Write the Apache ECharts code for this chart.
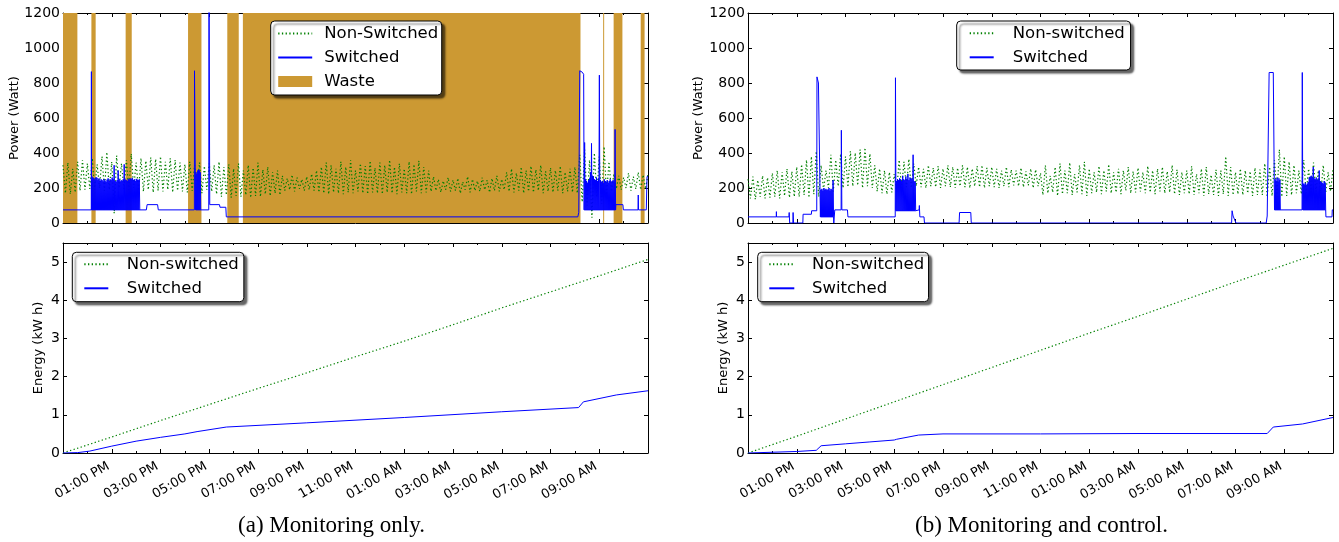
<!DOCTYPE html>
<html><head><meta charset="utf-8">
<script src="https://cdn.jsdelivr.net/npm/echarts@6/dist/echarts.min.js"></script>
<style>html,body{margin:0;padding:0;background:#fff}#c{width:1339px;height:542px}</style>
</head><body><div id="c"></div>
<script>
// ---------- tick labels (x axis runs 0..24 h starting 11:00 AM) ----------
const timeLabels = ['01:00 PM','03:00 PM','05:00 PM','07:00 PM','09:00 PM','11:00 PM','01:00 AM','03:00 AM','05:00 AM','07:00 AM','09:00 AM'];
const sampleStepH = 0.1;

// ---------- (a) Monitoring only : power ----------
const leftNonSwitched = [
330,170,345,165,310,175,350,185,360,190,
340,195,370,190,335,200,380,185,405,190,
350,55,385,200,340,195,360,190,395,200,
345,185,370,180,355,190,375,175,365,185,
380,180,350,190,370,175,360,185,345,180,
335,175,350,185,330,180,345,170,325,190,
340,180,330,165,350,150,320,160,335,145,
310,155,340,150,300,160,330,145,315,155,
345,150,305,165,320,155,290,170,300,160,
270,185,255,190,275,180,260,195,250,185,
265,190,280,185,300,175,320,170,345,165,
330,175,310,170,350,165,320,175,360,170,
300,180,340,170,325,165,355,175,315,170,
345,165,330,175,360,170,320,165,340,175,
310,170,350,165,335,180,355,170,320,175,
300,180,265,185,250,175,240,190,260,180,
245,185,255,170,235,190,265,175,250,185,
240,180,260,190,245,175,255,185,270,180,
250,190,290,180,310,175,285,185,320,170,
300,180,325,175,305,185,330,170,295,180,
315,175,300,185,325,170,290,180,310,175,
320,170,390,120,420,100,360,30,400,150,
380,110,436,160,350,180,280,195,270,190,
260,200,285,185,265,195,290,190,275,195,
280];
const leftSwitched = [
[0,75],[1.16,75],[1.165,865],[1.17,75],[3.42,75],[3.45,105],[3.88,105],[3.91,75],
[5.39,75],[5.395,870],[5.43,860],[5.44,75],[5.98,75],[5.99,1400],[6.01,1400],[6.02,105],
[6.42,105],[6.44,90],[6.68,90],[6.7,35],[21.12,35],[21.16,60],[21.2,870],[21.3,862],
[21.36,850],[21.38,75],[22.67,75],[22.68,105],[22.97,105],[22.99,75],[23.59,75],[23.6,160],
[23.61,75],[23.93,75],[23.96,265],[24,265]];
const leftBurstSpans = [[1.17,3.15,75],[5.44,5.65,75],[21.38,22.67,75]];
const leftBurstTops1 = [265,260,255,250,262,258,245,255,240,250,245,238,252,242,235,248,255,240,
  250,245,260,250,330,240,235,245,300,250,238,245,240,250,335,250,245,240,252,248,
  255,250,258,245,250,240,252,248,245,250];
const leftBurstTops2 = [290,280,300,305,300,290];
const leftBurstTops3 = [460,250,240,230,245,255,290,455,270,265,250,245,260,240,255,845,
  245,235,240,230,250,240,235,245,230,240,250,235,240,245,238,535];
const leftWaste = [[0,0.59],[1.165,1.34],[2.57,2.82],[5.13,5.68],[6.74,7.21],[7.38,21.23],[22.16,22.2],[22.59,22.95],[23.7,23.86]];

// ---------- (b) Monitoring and control : power ----------
const rightNonSwitched = [
250,140,265,135,245,150,270,140,260,145,
285,150,300,140,290,155,310,145,295,150,
320,150,335,160,360,145,380,165,410,150,
330,190,300,200,390,180,360,210,395,200,
380,205,410,210,400,215,420,200,430,210,
395,200,330,180,310,170,300,165,290,175,
280,180,360,200,350,205,365,200,340,210,
320,205,310,200,330,210,315,205,325,200,
310,210,330,205,320,200,315,210,330,205,
320,200,310,210,325,205,330,200,315,210,
320,205,310,200,300,210,320,205,305,215,
300,210,315,205,295,215,310,200,305,210,
285,160,330,170,270,175,320,155,340,165,
300,170,345,160,280,175,330,165,350,155,
310,170,290,175,325,165,300,180,335,170,
290,175,310,165,300,185,320,170,295,175,
315,180,290,170,325,175,300,165,310,180,
320,170,295,175,330,165,305,160,290,170,
300,165,325,160,280,170,310,155,320,165,
275,160,305,155,300,165,380,155,320,160,
290,165,310,160,300,170,295,155,315,160,
305,160,340,150,320,155,360,150,420,150,
380,155,350,160,330,170,300,165,360,170,
310,175,345,180,300,170,330,175,290,180,
310];
const rightSwitched = [
[0,35],[1.16,35],[1.165,65],[1.17,35],[1.68,35],[1.69,60],[1.71,0],[1.84,0],[1.85,60],[1.87,0],
[2.25,0],[2.26,50],[2.6,50],[2.61,70],[2.82,70],[2.83,835],[2.88,830],[2.89,800],[2.96,800],[2.97,35],
[3.51,35],[3.52,0],[3.55,0],[3.56,75],[3.82,75],[3.83,530],[3.85,75],[4.08,75],[4.1,35],[6.04,35],
[6.05,830],[6.07,70],[6.88,70],[6.89,75],[7.02,75],[7.03,100],[7.05,35],[7.22,35],[7.24,0],[8.66,0],
[8.68,60],[9.14,60],[9.16,0],[19.84,0],[19.86,70],[19.9,40],[20.02,0],[21.26,0],[21.3,40],[21.38,860],
[21.55,860],[21.6,75],[22.73,75],[22.74,860],[22.76,75],[23.7,75],[23.71,35],[23.96,35],[23.97,75],[24,75]];
const rightBurstSpans = [[2.97,3.51,35],[6.07,6.88,70],[21.61,21.84,75],[22.76,23.7,75]];
const rightBurstTops1 = [190,195,185,200,190,195,188,192,200,185,195,190,245];
const rightBurstTops2 = [240,250,245,255,250,240,270,250,245,265,250,280,245,260,255,250,390,240,235];
const rightBurstTops3 = [250,240,260,235,255,245];
const rightBurstTops4 = [225,220,230,215,225,235,260,265,270,260,320,255,250,260,245,255,300,240,235,230,225,240,230];

// ---------- energy (kW h) ----------
const leftEnergyNonSwitched = [[0,0],[2,0.42],[4,0.85],[6,1.27],[8,1.69],[10,2.1],[12,2.52],[14,2.93],[16,3.36],[18,3.8],[20,4.22],[22,4.64],[24,5.07]];
const leftEnergySwitched = [[0,0],[0.6,0.01],[1.1,0.05],[2,0.18],[3,0.31],[4,0.41],[5,0.5],[5.5,0.56],[6.7,0.68],[10,0.79],[14,0.93],[18,1.08],[21.15,1.19],[21.35,1.34],[22.7,1.52],[24,1.63]];
const rightEnergyNonSwitched = [[0,0],[2,0.44],[4,0.89],[6,1.34],[8,1.79],[10,2.24],[12,2.69],[14,3.14],[16,3.58],[18,4.03],[20,4.48],[22,4.92],[24,5.36]];
const rightEnergySwitched = [[0,0],[1,0.02],[2,0.04],[2.8,0.07],[3.0,0.19],[4,0.24],[5,0.29],[6,0.34],[6.1,0.36],[7,0.47],[8,0.5],[12,0.5],[16,0.51],[21.3,0.51],[21.55,0.68],[22.75,0.76],[24,0.93]];

// ---------- build ----------
const FONT = 'DejaVu Sans';
const GREEN = '#008000', BLUE = '#0000ff', WASTE = '#cc9933';
const grids = [
  {left:63, top:13, width:585, height:210},
  {left:63, top:243, width:585, height:210},
  {left:748, top:13, width:585, height:210},
  {left:748, top:243, width:585, height:210}
];
const xAxes = [], yAxes = [];
grids.forEach((g, gi) => {
  const isEnergy = gi % 2 === 1;
  const tick = {show:true, inside:true, length:4, lineStyle:{color:'#000', width:1}};
  const minor = {show:true, splitNumber:2, length:2, lineStyle:{color:'#000', width:1}};
  const line = {show:true, onZero:false, lineStyle:{color:'#000', width:1}};
  xAxes.push({gridIndex:gi, type:'value', position:'bottom', min:0, max:24, interval:2,
    axisLine:line, axisTick:tick, minorTick:minor, splitLine:{show:false}, minorSplitLine:{show:false},
    axisLabel:{show:isEnergy, rotate:30, align:'right', verticalAlign:'bottom', margin:18,
      fontFamily:FONT, fontSize:13, color:'#000',
      formatter: v => (v > 0 && v < 24) ? timeLabels[v/2 - 1] : ''}});
  xAxes.push({gridIndex:gi, type:'value', position:'top', min:0, max:24, interval:2,
    axisLine:line, axisTick:tick, minorTick:minor, splitLine:{show:false}, axisLabel:{show:false}});
  const yMax = isEnergy ? 5.5 : 1200, yInt = isEnergy ? 1 : 200;
  yAxes.push({gridIndex:gi, type:'value', position:'left', min:0, max:yMax, interval:yInt,
    axisLine:line, axisTick:tick, splitLine:{show:false},
    axisLabel:{margin:3, fontFamily:FONT, fontSize:14, color:'#000', showMaxLabel: !isEnergy,
      formatter: v => (Number.isInteger(v) ? String(v) : '')}});
  yAxes.push({gridIndex:gi, type:'value', position:'right', min:0, max:yMax, interval:yInt,
    axisLine:line, axisTick:tick, splitLine:{show:false}, axisLabel:{show:false}});
});

function lineS(name, gi, data, color, dotted, z) {
  return {type:'line', name, xAxisIndex:2*gi, yAxisIndex:2*gi, data, symbol:'none', showSymbol:false,
    silent:true, animation:false, z:z, clip:true,
    lineStyle:{color, width: dotted ? 1.2 : 1, type: dotted ? [1.3,2.4] : 'solid'}, itemStyle:{color}};
}
function burstPoints(span, tops) {
  const [s, e, base] = span, dt = (e - s) / tops.length, pts = [];
  tops.forEach((t, k) => { pts.push([s + k*dt, base]); pts.push([s + (k + 0.5)*dt, t]); });
  pts.push([e, base]);
  return pts;
}
const series = [];
series.push({type:'custom', name:'Waste', xAxisIndex:0, yAxisIndex:0, data:leftWaste, z:1, silent:true,
  animation:false, itemStyle:{color:WASTE}, encode:{x:[0,1]},
  renderItem: (params, api) => {
    const a = api.coord([api.value(0), 1200]), b = api.coord([api.value(1), 0]);
    return {type:'rect', shape:{x:a[0], y:a[1], width:Math.max(b[0]-a[0], 1), height:b[1]-a[1]},
      style:{fill:WASTE}};
  }});
series.push(lineS('Non-Switched', 0, leftNonSwitched.map((v,i) => [i*sampleStepH, v]), GREEN, true, 2));
series.push(lineS('Switched', 0, leftSwitched, BLUE, false, 3));
[leftBurstTops1, leftBurstTops2, leftBurstTops3].forEach((t, i) =>
  series.push(lineS('Switched', 0, burstPoints(leftBurstSpans[i], t), BLUE, false, 3)));
series.push(lineS('Non-switched', 2, rightNonSwitched.map((v,i) => [i*sampleStepH, v]), GREEN, true, 2));
series.push(lineS('Switched', 2, rightSwitched, BLUE, false, 3));
[rightBurstTops1, rightBurstTops2, rightBurstTops3, rightBurstTops4].forEach((t, i) =>
  series.push(lineS('Switched', 2, burstPoints(rightBurstSpans[i], t), BLUE, false, 3)));
series.push(lineS('Non-switched', 1, leftEnergyNonSwitched, GREEN, true, 2));
series.push(lineS('Switched', 1, leftEnergySwitched, BLUE, false, 3));
series.push(lineS('Non-switched', 3, rightEnergyNonSwitched, GREEN, true, 2));
series.push(lineS('Switched', 3, rightEnergySwitched, BLUE, false, 3));

function legend(data, left, top, itemWidth, pad, textPad) {
  return {data, left, top, orient:'vertical', itemWidth, itemHeight:11, itemGap:6, padding:pad,
    selectedMode:false, backgroundColor:'#fff', borderColor:'#000', borderWidth:1, borderRadius:4,
    shadowColor:'rgba(0,0,0,0.6)', shadowBlur:2, shadowOffsetX:3, shadowOffsetY:3,
    itemStyle:{color:'rgba(0,0,0,0)', borderWidth:0, opacity:0},
    textStyle:{fontFamily:FONT, fontSize:16.5, color:'#000', lineHeight:18, padding:[0,0,0,textPad]}};
}
const legends = [
  legend(['Non-Switched','Switched',{name:'Waste', icon:'rect', itemStyle:{color:WASTE, opacity:1}}], 270.7, 21, 34, [3.5,3.5,4.5,6.5], 7),
  legend(['Non-switched','Switched'], 956.7, 21, 24, [3.3,5.7,3.7,12], 14),
  legend(['Non-switched','Switched'], 72.3, 252.3, 24, [3,5,4.4,11], 13.4),
  legend(['Non-switched','Switched'], 757.7, 252.3, 25, [3,4.4,4.4,10.6], 12.7)
];

function txt(text, x, y, font, rot) {
  return {type:'text', x, y, rotation: rot || 0, silent:true,
    style:{text, font, fill:'#000', align:'center', verticalAlign:'middle', textAlign:'center', textVerticalAlign:'middle'}};
}
const graphics = [
  txt('Power (Watt)', 15, 118, '13px "DejaVu Sans"', Math.PI/2),
  txt('Energy (kW h)', 39, 348, '13px "DejaVu Sans"', Math.PI/2),
  txt('Power (Watt)', 699, 118, '13px "DejaVu Sans"', Math.PI/2),
  txt('Energy (kW h)', 724, 348, '13px "DejaVu Sans"', Math.PI/2),
  txt('(a) Monitoring only.', 331.5, 526, '23px "Liberation Serif"'),
  txt('(b) Monitoring and control.', 1041.5, 526, '23px "Liberation Serif"')
];

const chart = echarts.init(document.getElementById('c'), null, {renderer:'canvas'});
chart.setOption({animation:false, backgroundColor:'#fff', grid:grids, xAxis:xAxes, yAxis:yAxes,
  legend:legends, series, graphic:graphics});
</script></body></html>
